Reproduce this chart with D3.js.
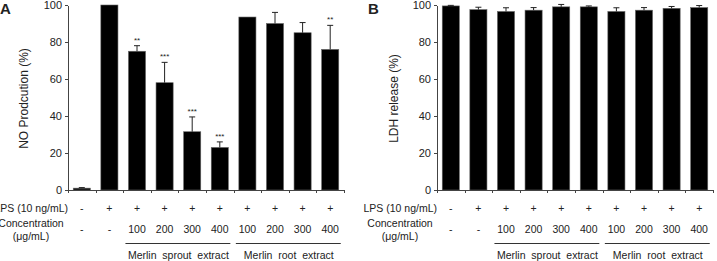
<!DOCTYPE html>
<html>
<head>
	<title>NO production and LDH release</title>
	<script type="text/javascript" src="https://d3js.org/d3.v7.min.js"></script>
	<style type="text/css">
		body { margin: 0; background: white; }
		.axis path, .axis line { fill: none; stroke: #444; shape-rendering: crispEdges; }
		.axis text { font-family: Arial, "Liberation Sans", sans-serif; font-size: 11px; fill: #222; }
		text { font-family: Arial, "Liberation Sans", sans-serif; fill: #222; }
	</style>
</head>
<body>
	<script type="text/javascript">
		// data
		var lpsRow = ["-", "+", "+", "+", "+", "+", "+", "+", "+", "+"];
		var concRow = ["-", "-", "100", "200", "300", "400", "100", "200", "300", "400"];
		var groupLabels = ["Merlin  sprout  extract", "Merlin  root  extract"];
		var groupRanges = [[2, 5], [6, 9]];
		var yTicks = [0, 20, 40, 60, 80, 100];

		var noValues = [1, 100, 75, 58, 31.5, 23, 93.5, 90, 85, 76];
		var noErrors = [0.3, 0, 3, 11, 8, 3, 0, 6, 5.5, 13];
		var noStars = ["", "", "**", "***", "***", "***", "", "", "", "**"];

		var ldhValues = [99.5, 97.5, 96.5, 97.2, 99, 99, 96.5, 97.2, 98.2, 98.6];
		var ldhErrors = [0.3, 1.3, 2, 1.4, 1.3, 0.5, 2, 1.4, 1, 1.1];
		var ldhStars = ["", "", "", "", "", "", "", "", "", ""];

		var outer_width = 717, outer_height = 261;
		var plot_width = 276, top_y = 5, bottom_y = 190;

		var svg = d3.select("body")
					.append("svg")
					.attr("width", outer_width)
					.attr("height", outer_height);

		var yScale = d3.scaleLinear().domain([0, 100]).range([bottom_y, top_y]);

		function drawPanel(x0, letter, letterX, yLabel, yLabelX, values, errors, stars) {
			var g = svg.append("g").attr("transform", "translate(" + x0 + ",0)");
			var idx = d3.range(values.length);

			var xScale = d3.scaleBand()
							.domain(idx)
							.range([0, plot_width])
							.paddingInner(0.38)
							.paddingOuter(0.19);
			var edgeScale = d3.scaleLinear().domain([0, values.length]).range([0, plot_width]);
			var mid = function(i){ return xScale(i) + xScale.bandwidth() / 2; };

			// bars
			g.selectAll("rect.bar")
				.data(idx)
				.enter()
				.append("rect")
				.attr("class", "bar")
				.attr("x", function(i){ return xScale(i); })
				.attr("y", function(i){ return yScale(values[i]); })
				.attr("width", xScale.bandwidth())
				.attr("height", function(i){ return yScale(0) - yScale(values[i]); })
				.style("fill", "black")
				.style("stroke", "#666")
				.style("stroke-width", 0.6);

			// error bars (upper only)
			var eb = g.selectAll("g.err")
				.data(idx.filter(function(i){ return errors[i] > 0; }))
				.enter()
				.append("g")
				.attr("class", "err");
			eb.append("line")
				.attr("x1", mid).attr("x2", mid)
				.attr("y1", function(i){ return yScale(values[i]); })
				.attr("y2", function(i){ return yScale(values[i] + errors[i]); })
				.style("stroke", "#222").style("stroke-width", 1);
			eb.append("line")
				.attr("x1", function(i){ return mid(i) - 3; })
				.attr("x2", function(i){ return mid(i) + 3; })
				.attr("y1", function(i){ return yScale(values[i] + errors[i]); })
				.attr("y2", function(i){ return yScale(values[i] + errors[i]); })
				.style("stroke", "#222").style("stroke-width", 1);

			// significance stars
			g.selectAll("text.star")
				.data(idx.filter(function(i){ return stars[i] != ""; }))
				.enter()
				.append("text")
				.attr("class", "star")
				.attr("x", mid)
				.attr("y", function(i){ return yScale(values[i] + errors[i]) - 3; })
				.attr("text-anchor", "middle")
				.style("font-size", "8px")
				.text(function(i){ return stars[i]; });

			// axes
			g.append("g")
				.attr("class", "axis")
				.call(d3.axisLeft(yScale).tickValues(yTicks).tickSize(3).tickSizeOuter(0).tickPadding(3));

			g.append("g")
				.attr("class", "axis")
				.attr("transform", "translate(0," + bottom_y + ")")
				.call(d3.axisBottom(edgeScale).tickValues(d3.range(values.length + 1)).tickFormat("").tickSize(3).tickSizeOuter(0));

			// panel letter and y label
			svg.append("text")
				.attr("x", letterX)
				.attr("y", 14)
				.style("font-size", "15px")
				.style("font-weight", "bold")
				.text(letter);

			g.append("text")
				.attr("transform", "translate(" + yLabelX + "," + ((top_y + bottom_y) / 2 + 1) + ") rotate(-90)")
				.attr("text-anchor", "middle")
				.attr("dy", "0.35em")
				.style("font-size", "12px")
				.text(yLabel);

			// table rows under the axis
			g.append("text")
				.attr("x", 0).attr("y", 212)
				.attr("text-anchor", "end")
				.style("font-size", "10.5px")
				.text("LPS (10 ng/mL)");
			g.selectAll("text.lps")
				.data(idx)
				.enter()
				.append("text")
				.attr("class", "lps")
				.attr("x", mid)
				.attr("y", 212)
				.attr("text-anchor", "middle")
				.style("font-size", "10.5px")
				.text(function(i){ return lpsRow[i]; });

			g.append("text")
				.attr("x", -37).attr("y", 227)
				.attr("text-anchor", "middle")
				.style("font-size", "10.5px")
				.text("Concentration");
			g.append("text")
				.attr("x", -37).attr("y", 240)
				.attr("text-anchor", "middle")
				.style("font-size", "10.5px")
				.text("(\u03bcg/mL)");
			g.selectAll("text.conc")
				.data(idx)
				.enter()
				.append("text")
				.attr("class", "conc")
				.attr("x", mid)
				.attr("y", 233)
				.attr("text-anchor", "middle")
				.style("font-size", "10.5px")
				.text(function(i){ return concRow[i]; });

			// group brackets
			g.selectAll("line.grp")
				.data(groupRanges)
				.enter()
				.append("line")
				.attr("class", "grp")
				.attr("x1", function(r){ return xScale(r[0]) - 3; })
				.attr("x2", function(r){ return xScale(r[1]) + xScale.bandwidth() + 2; })
				.attr("y1", 243.5).attr("y2", 243.5)
				.style("stroke", "#333").style("stroke-width", 1);
			g.selectAll("text.grp")
				.data(groupRanges)
				.enter()
				.append("text")
				.attr("class", "grp")
				.attr("x", function(r){ return (xScale(r[0]) + xScale(r[1]) + xScale.bandwidth()) / 2; })
				.attr("y", 259)
				.attr("text-anchor", "middle")
				.style("font-size", "10.5px")
				.style("white-space", "pre")
				.text(function(r, k){ return groupLabels[k]; });
		}

		drawPanel(68, "A", 0, "NO Prodcution (%)", -44, noValues, noErrors, noStars);
		drawPanel(437, "B", 368, "LDH release (%)", -43, ldhValues, ldhErrors, ldhStars);
	</script>
</body>
</html>
